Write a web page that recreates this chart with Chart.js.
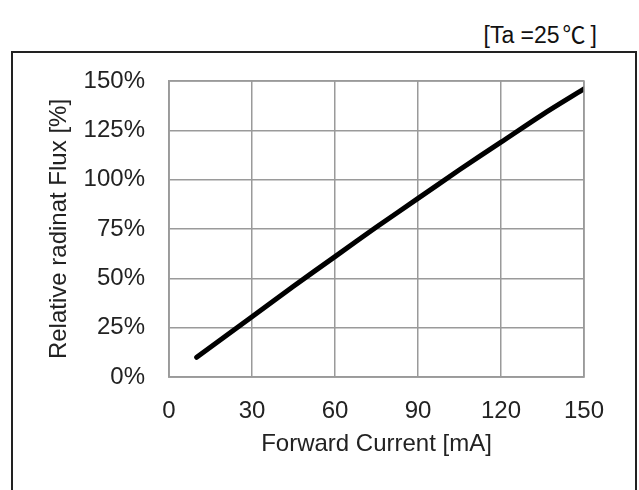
<!DOCTYPE html>
<html>
<head>
<meta charset="utf-8">
<script src="https://cdn.jsdelivr.net/npm/chart.js@4/dist/chart.umd.min.js"></script>
<style>
  html, body { margin: 0; padding: 0; background: #fff; }
  #wrap { position: relative; width: 639px; height: 490px; overflow: hidden; }
  #frame { position: absolute; left: 11px; top: 51px; width: 622px; height: 460px; border: 2px solid #222; }
  #cond { position: absolute; right: 42px; top: 16px; font: 23px "Liberation Sans", Arial, sans-serif; color: #111; white-space: pre; }
  #cond span { font-family: "Noto Sans CJK JP", sans-serif; margin: 0 5px 0 3px; }
  canvas { position: absolute; left: 0; top: 0; }
</style>
</head>
<body>
<div id="wrap">
  <div id="frame"></div>
  <div id="cond">[Ta =25<span>℃</span>]</div>
  <canvas id="chart" width="639" height="490"></canvas>
</div>
<script>
// Datos
const current = [10, 30, 45, 60, 75, 90, 105, 120, 135, 150];
const flux = [10, 30.5, 46, 61, 76, 90.5, 105, 119, 133, 146];
const xTicks = [0, 30, 60, 90, 120, 150];
const yTicks = [0, 25, 50, 75, 100, 125, 150];

const font = { family: '"Liberation Sans", Arial, sans-serif', size: 24 };
const gridColor = '#9a9a9a';

new Chart(document.getElementById('chart'), {
  type: 'scatter',
  data: {
    datasets: [{
      data: current.map((x, i) => ({ x: x, y: flux[i] })),
      showLine: true,
      borderColor: '#000',
      borderWidth: 5,
      borderCapStyle: 'round',
      pointRadius: 0,
      tension: 0.3
    }]
  },
  options: {
    responsive: false,
    animation: false,
    events: [],
    layout: { padding: { top: 81, right: 55, left: 0, bottom: 0 } },
    plugins: { legend: { display: false }, tooltip: { enabled: false } },
    scales: {
      x: {
        type: 'linear',
        min: 0, max: 150,
        afterBuildTicks: s => { s.ticks = xTicks.map(v => ({ value: v })); },
        afterFit: s => { s.height = 113; },
        grid: { color: gridColor, lineWidth: 1.5, drawTicks: false },
        border: { color: gridColor, width: 1.5 },
        ticks: { color: '#222', font: font, padding: 20 },
        title: { display: true, text: 'Forward Current [mA]', color: '#222', font: font, padding: { top: 0, bottom: 31 } }
      },
      y: {
        min: 0, max: 150,
        afterBuildTicks: s => { s.ticks = yTicks.map(v => ({ value: v })); },
        afterFit: s => { s.width = 169; },
        grid: { color: gridColor, lineWidth: 1.5, drawTicks: false },
        border: { color: gridColor, width: 1.5 },
        ticks: { color: '#222', font: font, padding: 24, callback: v => v + '%' },
        title: { display: true, text: 'Relative radinat Flux [%]', color: '#222', font: font, padding: { top: 45, bottom: 0 } }
      }
    }
  },
  plugins: [{
    id: 'plotFrame',
    afterDraw(chart) {
      const a = chart.chartArea, c = chart.ctx;
      c.save();
      c.strokeStyle = gridColor;
      c.lineWidth = 1.5;
      c.strokeRect(a.left, a.top, a.right - a.left, a.bottom - a.top);
      c.restore();
    }
  }]
});
</script>
</body>
</html>
